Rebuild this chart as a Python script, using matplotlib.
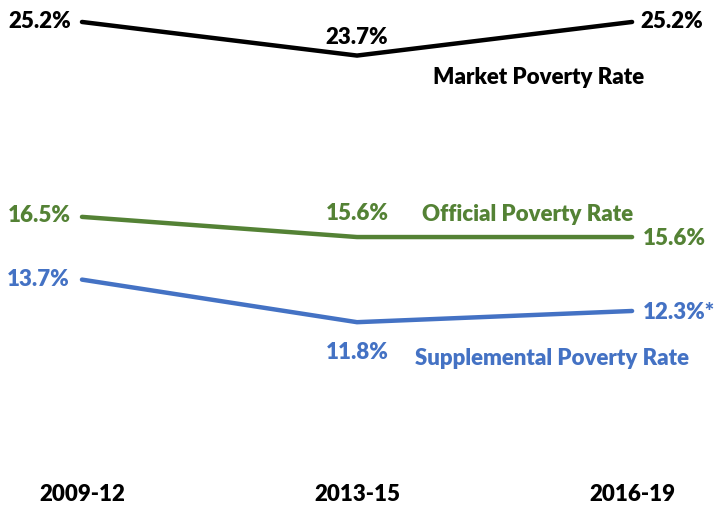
import matplotlib
matplotlib.use("Agg")
from matplotlib import pyplot as plt

periods = ["2009-12", "2013-15", "2016-19"]
market = [25.2, 23.7, 25.2]
official = [16.5, 15.6, 15.6]
supplemental = [13.7, 11.8, 12.3]
market_labels = ["25.2%", "23.7%", "25.2%"]
official_labels = ["16.5%", "15.6%", "15.6%"]
supplemental_labels = ["13.7%", "11.8%", "12.3%*"]

BLACK = "#000000"
GREEN = "#548235"
BLUE = "#4472C4"

plt.rcParams["font.family"] = ["Lato", "DejaVu Sans"]

fig = plt.figure(figsize=(7.19, 5.18), dpi=100)
ax = fig.add_axes([0, 0, 1, 1])
x = list(range(len(periods)))

ax.plot(x, market, color=BLACK, lw=3.2, solid_capstyle="round")
ax.plot(x, official, color=GREEN, lw=3.2, solid_capstyle="round")
ax.plot(x, supplemental, color=BLUE, lw=3.2, solid_capstyle="round")

ax.set_xlim(-0.298, 2.316)
ax.set_ylim(3.06, 26.18)
ax.axis("off")

fs = 16
bold = dict(fontsize=fs, fontweight=800)

# market
ax.annotate(market_labels[0], (x[0], market[0]), xytext=(-8, 0), textcoords="offset points",
            ha="right", va="center", color=BLACK, **bold)
ax.annotate(market_labels[1], (x[1], market[1]), xytext=(0, 13), textcoords="offset points",
            ha="center", va="center", color=BLACK, **bold)
ax.annotate(market_labels[2], (x[2], market[2]), xytext=(6, 0), textcoords="offset points",
            ha="left", va="center", color=BLACK, **bold)
ax.text(1.66, 22.7, "Market Poverty Rate", ha="center", va="center", color=BLACK, **bold)

# official
ax.annotate(official_labels[0], (x[0], official[0]), xytext=(-8, 1), textcoords="offset points",
            ha="right", va="center", color=GREEN, **bold)
ax.annotate(official_labels[1], (x[1], official[1]), xytext=(0, 17), textcoords="offset points",
            ha="center", va="center", color=GREEN, **bold)
ax.annotate(official_labels[2], (x[2], official[2]), xytext=(8, -1), textcoords="offset points",
            ha="left", va="center", color=GREEN, **bold)
ax.text(1.62, 16.6, "Official Poverty Rate", ha="center", va="center", color=GREEN, **bold)

# supplemental
ax.annotate(supplemental_labels[0], (x[0], supplemental[0]), xytext=(-9, 0), textcoords="offset points",
            ha="right", va="center", color=BLUE, **bold)
ax.annotate(supplemental_labels[1], (x[1], supplemental[1]), xytext=(0, -22), textcoords="offset points",
            ha="center", va="center", color=BLUE, **bold)
ax.annotate(supplemental_labels[2], (x[2], supplemental[2]), xytext=(8, -1), textcoords="offset points",
            ha="left", va="center", color=BLUE, **bold)
ax.text(1.71, 10.2, "Supplemental Poverty Rate", ha="center", va="center", color=BLUE, **bold)

for xi, p in zip(x, periods):
    ax.text(xi, 4.1, p, ha="center", va="center", color=BLACK, **bold)

fig.savefig("out.png", dpi=100)
